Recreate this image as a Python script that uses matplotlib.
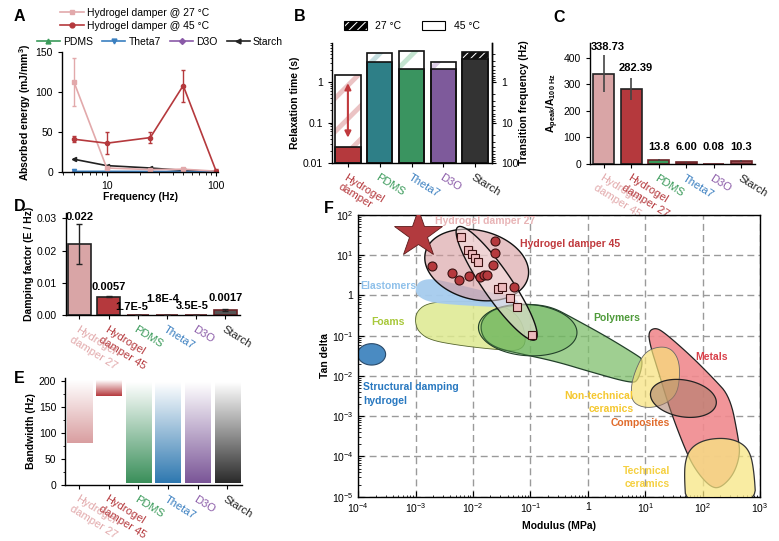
import numpy as np
import matplotlib
matplotlib.use('Agg')
import matplotlib.pyplot as plt
from matplotlib.patches import Polygon, Patch
from matplotlib.lines import Line2D
from matplotlib.colors import LinearSegmentedColormap, to_rgba
from matplotlib.ticker import FixedLocator, NullFormatter, LogLocator, FuncFormatter, MultipleLocator

# ---------------- DATA ----------------
# Panel A
freq = [5, 10, 25, 50, 100]
a_hyd27 = [113, 5, 3, 3.5, 1]
a_hyd27_err = [30, 2, 1, 1, 0.5]
a_hyd45 = [41, 36, 43, 108, 1]
a_hyd45_err = [4, 14, 7, 20, 0.5]
a_pdms = [0.5, 0.5, 0.5, 0.5, 0.5]
a_theta7 = [0.8, 0.8, 0.7, 0.6, 0.5]
a_d3o = [0.4, 0.4, 0.4, 0.4, 0.4]
a_starch = [16, 8, 5, 2, 1]

# Panel B
b_names = ['Hydrogel\ndamper', 'PDMS', 'Theta7', 'D3O', 'Starch']
tau_45 = [0.025, 3.1, 2.05, 2.05, 3.8]
tau_27 = [1.5, 5.1, 5.9, 3.05, 5.6]

# Panel C
c_names = ['Hydrogel\ndamper 45', 'Hydrogel\ndamper 27', 'PDMS', 'Theta7', 'D3O', 'Starch']
c_vals = [338.73, 282.39, 13.8, 6.00, 0.08, 10.3]
c_lo = [270, 240, 10, 4, 0.0, 8]
c_hi = [410, 322, 18, 8, 0.2, 13]
c_text = ['338.73', '282.39', '13.8', '6.00', '0.08', '10.3']

# Panel D
de_names = ['Hydrogel\ndamper 27', 'Hydrogel\ndamper 45', 'PDMS', 'Theta7', 'D3O', 'Starch']
d_vals = [0.022, 0.0057, 1.7e-5, 1.8e-4, 3.5e-5, 0.0017]
d_err = [0.0063, 0.0002, 0, 0, 0, 0.0003]
d_text = ['0.022', '0.0057', '1.7E-5', '1.8E-4', '3.5E-5', '0.0017']

# Panel E
e_low = [80, 170, 3, 3, 3, 3]
e_high = [200, 200, 197, 197, 197, 197]

# Panel F (data points and region outlines, log10 units for outlines)
f45_mod = [1.90e-3, 4.24e-3, 5.77e-3, 8.61e-3, 1.32e-2, 1.57e-2, 1.77e-2, 2.20e-2, 2.38e-2, 2.41e-2, 5.24e-2]
f45_tan = [5.5, 3.7, 2.47, 3.05, 2.88, 3.23, 3.29, 5.71, 11.1, 22.6, 1.66]
f27_mod = [6.08e-3, 8.26e-3, 9.57e-3, 1.07e-2, 1.20e-2, 2.75e-2, 3.24e-2, 4.40e-2, 5.75e-2, 0.105]
f27_tan = [28.4, 13.5, 10.7, 8.4, 6.7, 1.42, 1.62, 0.865, 0.527, 0.104]
f_star_mod = [1.08e-3]
f_star_tan = [33]

elastomers = [(-2.954, 0.343), (-2.751, 0.426), (-2.402, 0.326), (-1.937, 0.152), (-1.472, 0.012),
              (-1.182, -0.138), (-1.240, -0.320), (-1.705, -0.278), (-2.286, -0.237), (-2.751, -0.171),
              (-2.954, -0.030), (-3.012, 0.136)]
foams = [(-2.983, -0.403), (-2.809, -0.196), (-2.402, -0.138), (-1.821, -0.154), (-1.414, -0.278),
         (-1.124, -0.651), (-1.066, -1.397), (-1.705, -1.331), (-2.286, -1.231), (-2.751, -1.107),
         (-2.954, -0.900), (-3.012, -0.651)]
polymers = [(-1.879, -0.651), (-1.647, -0.320), (-1.124, -0.212), (-0.659, -0.262), (-0.252, -0.568),
            (0.329, -1.024), (0.852, -1.480), (0.968, -1.604), (0.881, -2.101), (0.765, -2.184),
            (0.038, -1.894), (-0.543, -1.645), (-1.124, -1.463), (-1.589, -1.314), (-1.833, -1.065)]
metals = [(1.055, -0.900), (1.171, -0.800), (1.317, -0.900), (1.782, -1.480), (2.188, -2.060),
          (2.479, -2.515), (2.624, -3.551), (2.653, -3.965), (2.537, -4.462), (2.304, -4.794),
          (2.130, -4.752), (1.898, -4.379), (1.723, -3.924), (1.433, -2.847), (1.230, -1.894),
          (1.084, -1.231)]
nontech = [(0.794, -1.977), (0.968, -1.438), (1.200, -1.273), (1.433, -1.297), (1.578, -1.563),
           (1.607, -1.977), (1.549, -2.474), (1.317, -2.723), (1.026, -2.805), (0.794, -2.681),
           (0.747, -2.391)]
techcer = [(1.694, -4.131), (1.782, -3.800), (2.014, -3.592), (2.363, -3.534), (2.653, -3.634),
           (2.827, -3.882), (2.897, -4.379), (2.932, -5.208), (1.712, -5.208), (1.683, -4.545)]
# ellipses: (center log x, center log y, semi-a, semi-b, angle)
ell_struct = (-3.768, -1.463, 0.244, 0.186, 0)
ell_polyinner = (-1.048, -0.858, 0.86, 0.447, -4)
ell_comp = (1.665, -2.557, 0.58, 0.32, -10)
ell_h45 = (-1.937, 0.757, 0.92, 0.60, -14)
ell_h27 = (-1.589, 0.302, 1.19, 0.25, -55.4)

# ---------------- STYLE ----------------
plt.rcParams.update({
    'font.family': ['Liberation Sans', 'DejaVu Sans'],
    'font.size': 7.5,
    'mathtext.fontset': 'custom',
    'mathtext.rm': 'Liberation Sans',
    'mathtext.it': 'Liberation Sans:italic',
    'mathtext.bf': 'Liberation Sans:bold',
    'mathtext.default': 'regular',
    'axes.linewidth': 1.0,
    'xtick.labelsize': 7.5,
    'ytick.labelsize': 7.5,
    'xtick.major.size': 3, 'ytick.major.size': 3,
    'xtick.minor.size': 1.8, 'ytick.minor.size': 1.8,
    'hatch.linewidth': 3.5,
})

C27 = '#E2A9AB'
C27BAR = '#D9A5A6'
C45 = '#B5393D'
CPDMS = '#3A9A5A'
CTHETA = '#3A7FC0'
CD3O = '#8A5AA8'
CSTARCH = '#222222'
EDGE = '#6B2226'

W, H = 779, 541
fig = plt.figure(figsize=(W / 100, H / 100), dpi=100)


def axes_px(left, top, right, bottom):
    return fig.add_axes([left / W, 1 - bottom / H, (right - left) / W, (bottom - top) / H])


def cat_labels(ax, names, colors, fs=8):
    ax.set_xticks(range(len(names)))
    ax.set_xticklabels(names, rotation=-32, ha='left', va='top', rotation_mode='anchor', fontsize=fs)
    for lbl, c in zip(ax.get_xticklabels(), colors):
        lbl.set_color(c)


def panel_label(x, y, s):
    fig.text(x / W, 1 - y / H, s, fontsize=11.5, fontweight='bold', va='top', ha='left')


# ---------------- A ----------------
axA = axes_px(62, 52, 218, 172)
axA.errorbar(freq, a_hyd27, yerr=a_hyd27_err, color=C27, marker='s', ms=3, lw=1.2, capsize=1.5, elinewidth=1)
axA.errorbar(freq, a_hyd45, yerr=a_hyd45_err, color=C45, marker='o', ms=3, lw=1.2, capsize=1.5, elinewidth=1)
axA.plot(freq, a_starch, color=CSTARCH, marker='<', ms=3, lw=1.2)
axA.plot(freq, a_pdms, color=CPDMS, marker='^', ms=3, lw=1.2)
axA.plot(freq, a_d3o, color=CD3O, marker='D', ms=2.5, lw=1.2)
axA.plot(freq, a_theta7, color=CTHETA, marker='v', ms=3, lw=1.2)
axA.set_xscale('log')
axA.set_xlim(3.9, 104)
axA.set_ylim(0, 150)
axA.xaxis.set_major_locator(FixedLocator([10, 100]))
axA.xaxis.set_major_formatter(FuncFormatter(lambda v, _: '%d' % v))
axA.xaxis.set_minor_locator(LogLocator(subs=np.arange(2, 10)))
axA.xaxis.set_minor_formatter(NullFormatter())
axA.set_yticks([0, 50, 100, 150])
for s in ['top', 'right']:
    axA.spines[s].set_visible(False)
axA.set_xlabel('Frequency (Hz)', fontweight='bold', labelpad=1)
axA.set_ylabel('Absorbed energy (mJ/mm$^3$)', fontweight='bold', labelpad=2)

leg1_h = [Line2D([], [], color=C27, marker='s', ms=3.5, lw=1.2),
          Line2D([], [], color=C45, marker='o', ms=3.5, lw=1.2)]
fig.legend(leg1_h, ['Hydrogel damper @ 27 °C', 'Hydrogel damper @ 45 °C'], loc='upper left',
           bbox_to_anchor=(60 / W, 1 - 8 / H), frameon=False, fontsize=7.5, handlelength=2.3,
           handletextpad=0.3, labelspacing=0.25, borderpad=0, borderaxespad=0)
leg2_h = [Line2D([], [], color=CPDMS, marker='^', ms=3.5, lw=1.2),
          Line2D([], [], color=CTHETA, marker='v', ms=3.5, lw=1.2),
          Line2D([], [], color=CD3O, marker='D', ms=3, lw=1.2),
          Line2D([], [], color=CSTARCH, marker='<', ms=3.5, lw=1.2)]
fig.legend(leg2_h, ['PDMS', 'Theta7', 'D3O', 'Starch'], loc='upper left', ncol=4,
           bbox_to_anchor=(37 / W, 1 - 37 / H), frameon=False, fontsize=7.5, handlelength=2.2,
           handletextpad=0.3, columnspacing=0.9, borderpad=0, borderaxespad=0)

# ---------------- B ----------------
axB = axes_px(332, 43, 491.7, 163)
xb = np.arange(len(b_names))
b_cols = [C45, '#2E7F87', '#3A9460', '#7E5A9B', '#333333']
b_hatch_cols = ['#EBC3C4', '#C5DEE0', '#C3E3CF', '#DCCDE6', '#111111']
b_hatch = ['/', '/', '/', '/', '////']
y0 = 0.01
for i in range(len(b_names)):
    axB.bar(xb[i], tau_27[i] - y0, bottom=y0, width=0.8, facecolor='white',
            edgecolor=b_hatch_cols[i], hatch=b_hatch[i], lw=0, zorder=1)
axB.bar(xb, np.array(tau_45) - y0, bottom=y0, width=0.8, color=b_cols, edgecolor='#111111', lw=1.2, zorder=2)
axB.bar(xb, np.array(tau_27) - y0, bottom=y0, width=0.8, fill=False, edgecolor='#111111', lw=1.2, zorder=3)
axB.annotate('', xy=(0, 1.1), xytext=(0, 0.036),
             arrowprops=dict(arrowstyle='<|-|>', color='#C0393D', lw=1.5, mutation_scale=9), zorder=4)
axB.set_yscale('log')
axB.set_ylim(0.01, 9.2)
axB.set_xlim(-0.5, 4.52)
axB.set_yticks([0.01, 0.1, 1])
axB.set_yticklabels(['0.01', '0.1', '1'])
axB.yaxis.set_minor_locator(LogLocator(subs=np.arange(2, 10)))
axB.yaxis.set_minor_formatter(NullFormatter())
axB.spines['top'].set_visible(False)
axB.set_ylabel('Relaxation time (s)', fontweight='bold', labelpad=2)
cat_labels(axB, b_names, [C45, CPDMS, CTHETA, CD3O, CSTARCH])
inv = lambda v: 1.0 / np.clip(v, 1e-12, None)
secB = axB.secondary_yaxis('right', functions=(inv, inv))
secB.set_yticks([1, 10, 100])
secB.set_yticklabels(['1', '10', '100'])
secB.yaxis.set_minor_locator(LogLocator(subs=np.arange(2, 10)))
secB.yaxis.set_minor_formatter(NullFormatter())
secB.set_ylabel('Transition frequency (Hz)', fontweight='bold', labelpad=1)
bleg = [Patch(facecolor='white', edgecolor='black', hatch='////', lw=0.8),
        Patch(facecolor='white', edgecolor='black', lw=0.8)]
axB.legend(bleg, ['27 °C', '45 °C'], loc='lower center', bbox_to_anchor=(0.5, 1.1), ncol=2,
           frameon=False, fontsize=7.5, handlelength=2.2, handleheight=1.0, columnspacing=2.0,
           borderaxespad=0, borderpad=0)

# ---------------- C ----------------
axC = axes_px(590, 43, 755, 163.7)
xc = np.arange(len(c_names))
c_cols = [C27BAR, C45, CPDMS, '#9A3A40', C45, '#9A4A50']
axC.bar(xc, c_vals, width=0.77, color=c_cols, edgecolor=['#222222', '#222222', EDGE, EDGE, EDGE, EDGE], lw=1.2, zorder=2)
c_yerr = [np.array(c_vals) - np.array(c_lo), np.array(c_hi) - np.array(c_vals)]
axC.errorbar(xc, c_vals, yerr=c_yerr, fmt='none', ecolor='#444444', elinewidth=1.2, capsize=0, zorder=3)
c_label_y = [440, 361, 62, 62, 62, 62]
for i, t in enumerate(c_text):
    axC.text(xc[i] + (0.15 if i < 2 else 0), c_label_y[i], t, ha='center', va='center',
             fontweight='bold', fontsize=8)
axC.set_xlim(-0.5, 5.5)
axC.set_ylim(0, 455)
axC.set_yticks([0, 100, 200, 300, 400])
for s in ['top', 'right']:
    axC.spines[s].set_visible(False)
axC.set_ylabel(r'A$_{peak}$/A$_{100\ Hz}$', fontweight='bold', labelpad=2)
cat_labels(axC, c_names, [C27, C45, CPDMS, CTHETA, CD3O, CSTARCH])

# ---------------- D ----------------
axD = axes_px(65.7, 213, 240, 315.3)
xd = np.arange(len(de_names))
d_cols = [C27BAR, C45, CPDMS, C27BAR, C45, '#555555']
axD.bar(xd, d_vals, width=0.77, color=d_cols, edgecolor=['#222222', '#222222', EDGE, EDGE, EDGE, EDGE], lw=1.2, zorder=2)
axD.errorbar(xd, d_vals, yerr=d_err, fmt='none', ecolor='#222222', elinewidth=1.0, capsize=2, zorder=3)
d_label_pos = [(0, 0.0305), (1, 0.0088), (1.8, 0.0025), (2.85, 0.0050), (3.85, 0.0030), (5, 0.0054)]
for (px, py), t in zip(d_label_pos, d_text):
    axD.text(px, py, t, ha='center', va='center', fontweight='bold', fontsize=8)
axD.set_xlim(-0.47, 5.5)
axD.set_ylim(0, 0.0316)
axD.set_yticks([0, 0.01, 0.02, 0.03])
axD.set_yticklabels(['0.00', '0.01', '0.02', '0.03'])
for s in ['top', 'right']:
    axD.spines[s].set_visible(False)
axD.set_ylabel('Damping factor (E / Hz)', fontweight='bold', labelpad=2)
de_cols = [C27, C45, CPDMS, CTHETA, CD3O, CSTARCH]
cat_labels(axD, de_names, de_cols)

# ---------------- E ----------------
axE = axes_px(65.3, 378.3, 242, 484.7)
e_grad_cols = ['#D99EA0', '#B5393D', '#3A8F5A', '#2E78B0', '#7A5597', '#2A2A2A']
grad = np.linspace(1, 0, 256).reshape(-1, 1)
wE = 0.85
for i in range(len(de_names)):
    cmap = LinearSegmentedColormap.from_list('g%d' % i, ['white', e_grad_cols[i]])
    axE.imshow(grad, extent=[i - wE / 2, i + wE / 2, e_low[i], e_high[i]], origin='lower',
               cmap=cmap, vmin=0, vmax=1, aspect='auto', interpolation='bilinear', zorder=2)
axE.set_xlim(-0.47, 5.5)
axE.set_ylim(0, 205)
axE.set_yticks([0, 50, 100, 150, 200])
axE.yaxis.set_minor_locator(MultipleLocator(25))
for s in ['top', 'right']:
    axE.spines[s].set_visible(False)
axE.set_ylabel('Bandwidth (Hz)', fontweight='bold', labelpad=2)
cat_labels(axE, de_names, de_cols)

# ---------------- F ----------------
axF = axes_px(358.3, 215, 760, 496.7)
axF.set_xscale('log')
axF.set_yscale('log')
axF.set_xlim(1e-4, 1e3)
axF.set_ylim(1e-5, 1e2)
K = 57.4 / 40.2


def chaikin(pts, n=3):
    p = np.asarray(pts, float)
    for _ in range(n):
        q = np.roll(p, -1, axis=0)
        r = np.empty((2 * len(p), 2))
        r[0::2] = 0.75 * p + 0.25 * q
        r[1::2] = 0.25 * p + 0.75 * q
        p = r
    return p


def ellipse_pts(e, n=160):
    cx, cy, a, b, ang = e
    t = np.linspace(0, 2 * np.pi, n, endpoint=False)
    c, s = np.cos(np.radians(ang)), np.sin(np.radians(ang))
    x = cx + a * np.cos(t) * c - b * np.sin(t) * s
    y = cy + (a * np.cos(t) * s + b * np.sin(t) * c) * K
    return np.column_stack([x, y])


def add_region(pts_log, fc, alpha, ec, lw, z, smooth=True):
    p = chaikin(pts_log, 3) if smooth else np.asarray(pts_log)
    poly = Polygon(10 ** p, closed=True, facecolor=to_rgba(fc, alpha),
                   edgecolor=ec if ec else 'none', lw=lw, zorder=z)
    axF.add_patch(poly)


add_region(ellipse_pts(ell_struct), '#4A8BC2', 1.0, '#2A4A6A', 0.8, 2, smooth=False)
add_region(foams, '#DDE98F', 0.85, '#55652E', 0.6, 2)
add_region(polymers, '#7FC06C', 0.75, '#22402A', 0.9, 3)
add_region(ellipse_pts(ell_polyinner), '#5FAE50', 0.35, '#22402A', 0.8, 3, smooth=False)
add_region(elastomers, '#A6CCEE', 0.95, None, 0, 2.5)
add_region(metals, '#F08A8E', 0.9, '#222222', 0.9, 3)
add_region(nontech, '#F7E27A', 0.7, '#666666', 0.6, 4)
add_region(ellipse_pts(ell_comp), '#A87A66', 0.55, '#222222', 0.9, 4, smooth=False)
add_region(techcer, '#F7E683', 0.75, '#333333', 0.9, 4)
add_region(ellipse_pts(ell_h45), '#D69A9D', 0.6, '#111111', 1.0, 5, smooth=False)
add_region(ellipse_pts(ell_h27), '#F7E4E4', 0.55, '#111111', 1.0, 6, smooth=False)

axF.plot(f45_mod, f45_tan, 'o', ms=6.5, mfc='#B5393D', mec='#3A1010', mew=0.8, zorder=7)
axF.plot(f27_mod, f27_tan, 's', ms=6, mfc='#EDBABD', mec='#3A1010', mew=0.8, zorder=8)
axF.plot(f_star_mod, f_star_tan, '*', ms=36, mfc='#B23A3E', mec='#5A1A1A', mew=0.6, zorder=9)

axF.grid(True, which='major', ls=(0, (5, 3)), color='#9A9A9A', lw=1.0)
axF.set_axisbelow(True)
axF.xaxis.set_major_locator(FixedLocator([10.0 ** k for k in range(-4, 4)]))
axF.yaxis.set_major_locator(FixedLocator([10.0 ** k for k in range(-5, 3)]))
fmt = FuncFormatter(lambda v, _: '1' if abs(np.log10(v)) < 1e-9 else r'$10^{%d}$' % int(round(np.log10(v))))
axF.xaxis.set_major_formatter(fmt)
axF.yaxis.set_major_formatter(fmt)
axF.xaxis.set_minor_locator(LogLocator(subs=np.arange(2, 10), numticks=20))
axF.yaxis.set_minor_locator(LogLocator(subs=np.arange(2, 10), numticks=20))
axF.xaxis.set_minor_formatter(NullFormatter())
axF.yaxis.set_minor_formatter(NullFormatter())
axF.tick_params(which='both', direction='in')
axF.tick_params(which='major', length=4)
axF.set_xlabel('Modulus (MPa)', fontweight='bold', labelpad=4)
axF.set_ylabel('Tan delta', fontweight='bold', labelpad=1)

txt = dict(fontweight='bold', fontsize=7.5, zorder=10)
axF.text(10 ** -2.664, 10 ** 1.86, 'Hydrogel damper 27', color='#E8B4B6', ha='left', va='center', **txt)
axF.text(10 ** -1.182, 10 ** 1.287, 'Hydrogel damper 45', color='#C0393D', ha='left', va='center', **txt)
axF.text(10 ** -3.97, 10 ** 0.227, 'Elastomers', color='#8EC0EA', ha='left', va='center', **txt)
axF.text(10 ** -3.77, 10 ** -0.651, 'Foams', color='#A8C83A', ha='left', va='center', **txt)
axF.text(10 ** 0.097, 10 ** -0.552, 'Polymers', color='#4E9A3A', ha='left', va='center', **txt)
axF.text(10 ** 1.869, 10 ** -1.538, 'Metals', color='#D8404A', ha='left', va='center', **txt)
axF.text(10 ** -3.92, 10 ** -2.45, 'Structural damping\nhydrogel', color='#2878C0', ha='left',
         va='center', linespacing=1.5, **txt)
axF.text(10 ** 0.794, 10 ** -2.66, 'Non-technical\nceramics', color='#F5C830', ha='right',
         va='center', multialignment='right', linespacing=1.3, **txt)
axF.text(10 ** 0.916, 10 ** -3.16, 'Composites', color='#E06A2A', ha='center', va='center', **txt)
axF.text(10 ** 1.433, 10 ** -4.52, 'Technical\nceramics', color='#F5D040', ha='right', va='center',
         multialignment='right', linespacing=1.3, **txt)

# panel letters
panel_label(14, 9, 'A')
panel_label(294, 9, 'B')
panel_label(553, 10, 'C')
panel_label(14, 199, 'D')
panel_label(14, 371, 'E')
panel_label(324, 201, 'F')

fig.savefig('out.png', dpi=100)
